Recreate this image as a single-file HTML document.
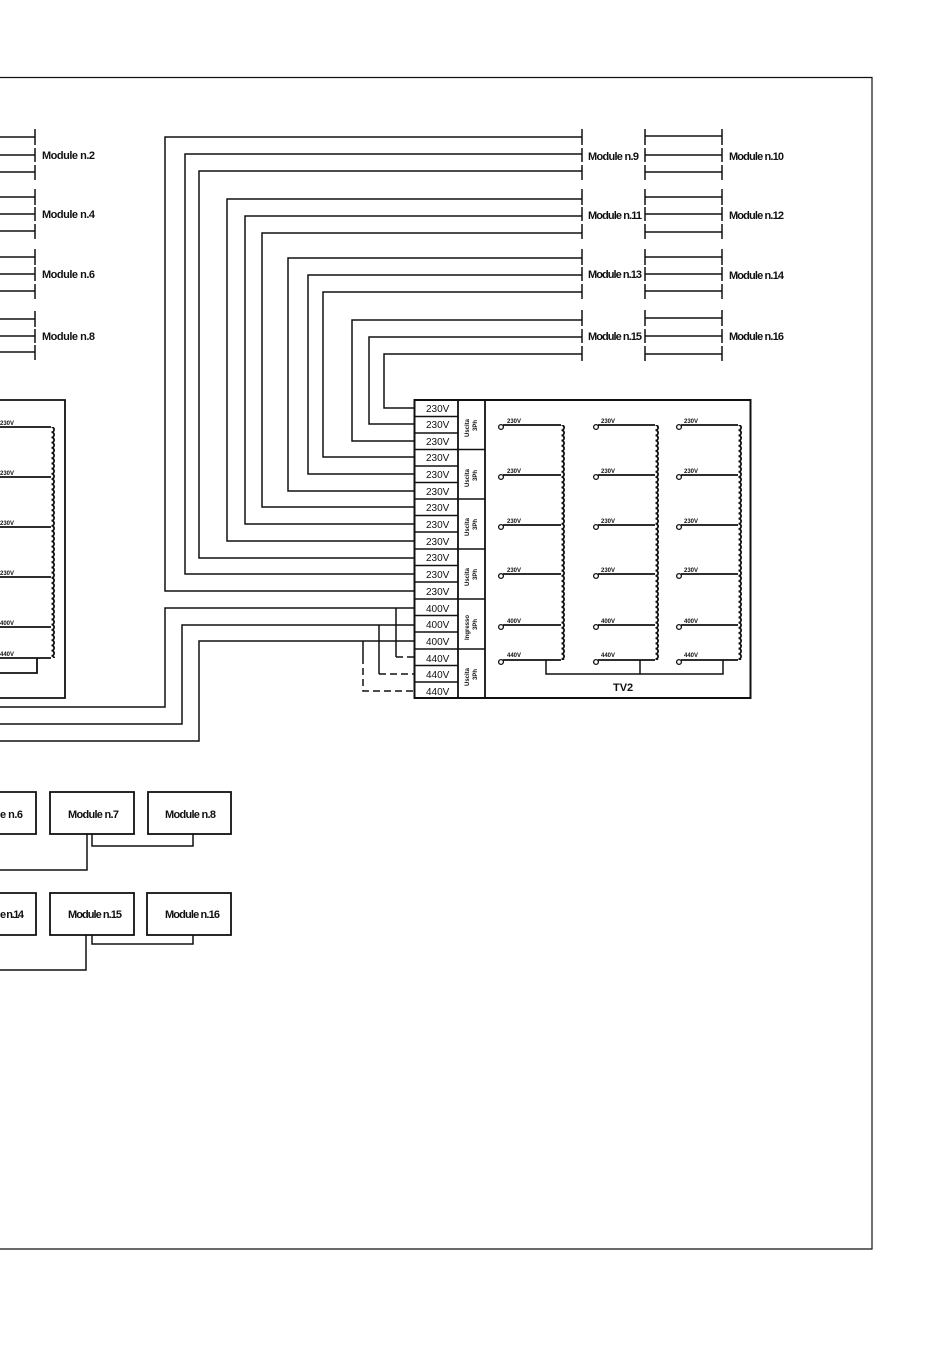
<!DOCTYPE html>
<html><head><meta charset="utf-8"><style>
html,body{margin:0;padding:0;background:#fff;}
svg{display:block;}
text{font-family:"Liberation Sans",sans-serif;fill:#111;}
.m{font-size:11px;font-weight:bold;}
.t{font-size:10px;}
.s{font-size:6px;font-weight:bold;}
</style></head><body>
<svg width="950" height="1346" viewBox="0 0 950 1346" xmlns="http://www.w3.org/2000/svg">
<defs>
<pattern id="c1" x="561" y="425" width="7" height="5.2" patternUnits="userSpaceOnUse"><path d="M0.5,0 a2.6,2.6 0 0 1 0,5.2" fill="none" stroke="#111" stroke-width="1.8"/></pattern>
<pattern id="c2" x="655" y="425" width="7" height="5.2" patternUnits="userSpaceOnUse"><path d="M0.5,0 a2.6,2.6 0 0 1 0,5.2" fill="none" stroke="#111" stroke-width="1.8"/></pattern>
<pattern id="c3" x="738" y="425" width="7" height="5.2" patternUnits="userSpaceOnUse"><path d="M0.5,0 a2.6,2.6 0 0 1 0,5.2" fill="none" stroke="#111" stroke-width="1.8"/></pattern>
<pattern id="c0" x="51" y="427" width="7" height="5.2" patternUnits="userSpaceOnUse"><path d="M0.5,0 a2.6,2.6 0 0 1 0,5.2" fill="none" stroke="#111" stroke-width="1.8"/></pattern>
</defs>
<g fill="none" stroke="#111" stroke-width="1.5">
<path d="M0,77.5 H872 V1249 H0" stroke-width="1.2"/>
<path d="M0,137H35 M0,155H35 M0,172H35 M0,197H35 M0,214H35 M0,231H35 M0,257H35 M0,274H35 M0,291H35 M0,319H35 M0,336H35 M0,352H35"/>
<path d="M35,129V145 M35,148V162 M35,165V180 M35,189V205 M35,207V221 M35,224V239 M35,249V265 M35,267V281 M35,284V299 M35,311V327 M35,329V343 M35,345V360"/>
<path d="M582,129V145 M582,148V162 M582,165V180 M582,189V205 M582,207V221 M582,224V239 M582,249V265 M582,267V281 M582,284V299 M582,310V326 M582,329V343 M582,346V361"/>
<path d="M645,129V145 M645,148V162 M645,165V180 M645,189V205 M645,207V221 M645,224V239 M645,249V265 M645,267V281 M645,284V299 M645,310V326 M645,329V343 M645,346V361"/>
<path d="M722,129V145 M722,148V162 M722,165V180 M722,189V205 M722,207V221 M722,224V239 M722,249V265 M722,267V281 M722,284V299 M722,310V326 M722,329V343 M722,346V361"/>
<path d="M645,136H722 M645,155H722 M645,172H722 M645,197H722 M645,214H722 M645,232H722 M645,257H722 M645,274H722 M645,291H722 M645,318H722 M645,336H722 M645,354H722"/>
<path d="M582,137H165V591H414"/>
<path d="M582,154H185V574H414"/>
<path d="M582,171H199V558H414"/>
<path d="M582,199H227V541H414"/>
<path d="M582,216H245V524H414"/>
<path d="M582,233H262V507H414"/>
<path d="M582,258H288V491H414"/>
<path d="M582,275H308V474H414"/>
<path d="M582,292H323V457H414"/>
<path d="M582,320H352V441H414"/>
<path d="M582,337H369V424H414"/>
<path d="M582,354H384V408H414"/>
<path d="M0,707H165V608H414"/>
<path d="M0,724H182V625H414"/>
<path d="M0,741H199V641H414"/>
<path d="M396,608V657 M379,625V674 M363,641V657"/>
<path d="M396,657H414 M379,674H414 M363,657V691H414" stroke-dasharray="7,4"/>
<rect x="414.5" y="400" width="336" height="298" stroke-width="2"/>
<path d="M458,400V698 M485,400V698" stroke-width="1.8"/>
<path d="M414,416.5H458 M414,433H458 M414,449.5H485 M414,466H458 M414,482.5H458 M414,499H485 M414,515.5H458 M414,532H458 M414,549H485 M414,565.5H458 M414,582H458 M414,599H485 M414,615.5H458 M414,632H458 M414,649H485 M414,665.5H458 M414,682H458"/>
<rect x="561" y="425" width="7" height="235" fill="url(#c1)" stroke="none"/>
<rect x="655" y="425" width="7" height="235" fill="url(#c2)" stroke="none"/>
<rect x="738" y="425" width="7" height="235" fill="url(#c3)" stroke="none"/>
<g stroke-width="1.8">
<path d="M503,425H561 M503,475H561 M503,525H561 M503,574H561 M503,625H561 M503,660H561"/>
<path d="M598,425H655 M598,475H655 M598,525H655 M598,574H655 M598,625H655 M598,660H655"/>
<path d="M681,425H738 M681,475H738 M681,525H738 M681,574H738 M681,625H738 M681,660H738"/>
</g>
<g stroke-width="1.3" fill="#fff">
<circle cx="501" cy="427" r="2.4"/><circle cx="501" cy="477" r="2.4"/><circle cx="501" cy="527" r="2.4"/><circle cx="501" cy="576" r="2.4"/><circle cx="501" cy="627" r="2.4"/><circle cx="501" cy="662" r="2.4"/>
<circle cx="596" cy="427" r="2.4"/><circle cx="596" cy="477" r="2.4"/><circle cx="596" cy="527" r="2.4"/><circle cx="596" cy="576" r="2.4"/><circle cx="596" cy="627" r="2.4"/><circle cx="596" cy="662" r="2.4"/>
<circle cx="679" cy="427" r="2.4"/><circle cx="679" cy="477" r="2.4"/><circle cx="679" cy="527" r="2.4"/><circle cx="679" cy="576" r="2.4"/><circle cx="679" cy="627" r="2.4"/><circle cx="679" cy="662" r="2.4"/>
</g>
<path d="M546,660V674H723V660 M640,660V674"/>
<path d="M0,400H65V698H0" stroke-width="1.8"/>
<rect x="51" y="427" width="7" height="231" fill="url(#c0)" stroke="none"/>
<path d="M0,427H51 M0,477H51 M0,527H51 M0,577H51 M0,627H51 M0,658H51 M37,658V673H0" stroke-width="1.8"/>
<path d="M0,792H36V834H0 M0,893H36V935H0" stroke-width="1.8"/>
<rect x="50" y="792" width="84" height="42" stroke-width="1.8"/>
<rect x="148" y="792" width="83" height="42" stroke-width="1.8"/>
<rect x="50" y="893" width="84" height="42" stroke-width="1.8"/>
<rect x="147" y="893" width="84" height="42" stroke-width="1.8"/>
<path d="M87,834V870H0 M92,834V846H193V834"/>
<path d="M86,935V970H0 M92,935V944H193V935"/>
</g>
<g class="m">
<text x="42" y="159" textLength="53">Module n.2</text>
<text x="42" y="218" textLength="53">Module n.4</text>
<text x="42" y="278" textLength="53">Module n.6</text>
<text x="42" y="340" textLength="53">Module n.8</text>
<text x="588" y="160" textLength="51">Module n.9</text>
<text x="588" y="219" textLength="54">Module n.11</text>
<text x="588" y="278" textLength="54">Module n.13</text>
<text x="588" y="340" textLength="54">Module n.15</text>
<text x="729" y="160" textLength="55">Module n.10</text>
<text x="729" y="219" textLength="55">Module n.12</text>
<text x="729" y="279" textLength="55">Module n.14</text>
<text x="729" y="340" textLength="55">Module n.16</text>
<text x="0" y="818" textLength="23">e n.6</text>
<text x="68" y="818" textLength="51">Module n.7</text>
<text x="165" y="818" textLength="51">Module n.8</text>
<text x="0" y="918" textLength="24">e n.14</text>
<text x="68" y="918" textLength="54">Module n.15</text>
<text x="165" y="918" textLength="55">Module n.16</text>
</g>
<g class="t">
<text x="426" y="412">230V</text><text x="426" y="428">230V</text><text x="426" y="445">230V</text>
<text x="426" y="461">230V</text><text x="426" y="478">230V</text><text x="426" y="495">230V</text>
<text x="426" y="511">230V</text><text x="426" y="528">230V</text><text x="426" y="545">230V</text>
<text x="426" y="561">230V</text><text x="426" y="578">230V</text><text x="426" y="595">230V</text>
<text x="426" y="612">400V</text><text x="426" y="628">400V</text><text x="426" y="645">400V</text>
<text x="426" y="662">440V</text><text x="426" y="678">440V</text><text x="426" y="695">440V</text>
<text x="613" y="691" style="font-size:11px;font-weight:bold">TV2</text>
</g>
<g class="s">
<text transform="translate(469,437) rotate(-90)">Uscita</text><text transform="translate(477,431) rotate(-90)">3Ph</text>
<text transform="translate(469,487) rotate(-90)">Uscita</text><text transform="translate(477,481) rotate(-90)">3Ph</text>
<text transform="translate(469,536) rotate(-90)">Uscita</text><text transform="translate(477,530) rotate(-90)">3Ph</text>
<text transform="translate(469,586) rotate(-90)">Uscita</text><text transform="translate(477,580) rotate(-90)">3Ph</text>
<text transform="translate(469,640) rotate(-90)">Ingresso</text><text transform="translate(477,630) rotate(-90)">3Ph</text>
<text transform="translate(469,686) rotate(-90)">Uscita</text><text transform="translate(477,680) rotate(-90)">3Ph</text>
<text x="507" y="423">230V</text><text x="507" y="473">230V</text><text x="507" y="523">230V</text><text x="507" y="572">230V</text><text x="507" y="623">400V</text><text x="507" y="657">440V</text>
<text x="601" y="423">230V</text><text x="601" y="473">230V</text><text x="601" y="523">230V</text><text x="601" y="572">230V</text><text x="601" y="623">400V</text><text x="601" y="657">440V</text>
<text x="684" y="423">230V</text><text x="684" y="473">230V</text><text x="684" y="523">230V</text><text x="684" y="572">230V</text><text x="684" y="623">400V</text><text x="684" y="657">440V</text>
<text x="0" y="425">230V</text><text x="0" y="475">230V</text><text x="0" y="525">230V</text><text x="0" y="575">230V</text><text x="0" y="625">400V</text><text x="0" y="656">440V</text>
</g>
</svg>
</body></html>
